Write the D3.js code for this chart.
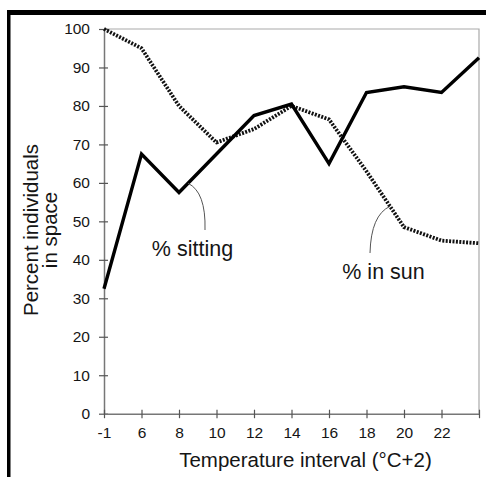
<!DOCTYPE html>
<html>
<head>
<meta charset="utf-8">
<script src="https://cdn.jsdelivr.net/npm/d3@7"></script>
<style>
  html, body { margin: 0; padding: 0; background: #fff; }
  svg { display: block; }
  text { font-family: "Liberation Sans", Arial, sans-serif; fill: #151515; }
</style>
</head>
<body>
<svg id="chart" width="486" height="477"></svg>
<script>
// Temperature intervals (°C+2); the last interval carries no label
const categories = ["-1", "6", "8", "10", "12", "14", "16", "18", "20", "22", ""];
// Percent of individuals sitting
const sitting = [32.5, 67.5, 57.5, 67.5, 77.5, 80.5, 65, 83.5, 85, 83.5, 92.5];
// Percent of individuals in the sun
const inSun = [100, 95, 80, 70.5, 74, 80, 76.5, 63, 48.5, 45, 44.3];
const yTicks = [0, 10, 20, 30, 40, 50, 60, 70, 80, 90, 100];

const svg = d3.select("#chart");
const plotLeft = 104, plotRight = 479, plotTop = 29, plotBottom = 413.7;

const x = d3.scalePoint().domain(categories).range([plotLeft, plotRight]).padding(0);
const y = d3.scaleLinear().domain([0, 100]).range([plotBottom, plotTop]);

// outer frame: heavy rule across the top and down the left side
svg.append("rect").attr("x", 7).attr("y", 10).attr("width", 479).attr("height", 5).attr("fill", "#000");
svg.append("rect").attr("x", 7).attr("y", 10).attr("width", 3.5).attr("height", 467).attr("fill", "#000");

// light plot box on the top and right
svg.append("path")
  .attr("d", `M${plotLeft},${plotTop}H${plotRight}V${plotBottom}`)
  .attr("fill", "none").attr("stroke", "#aaa").attr("stroke-width", 1.2);

// y axis
const yAxis = svg.append("g").attr("transform", `translate(${plotLeft},0)`)
  .call(d3.axisLeft(y).tickValues(yTicks).tickSize(5).tickPadding(9).tickSizeOuter(0));
yAxis.select(".domain").attr("stroke", "#777").attr("stroke-width", 1.5);
yAxis.selectAll(".tick line").attr("stroke", "#555").attr("stroke-width", 1.2).attr("x2", 4).attr("x1", -5);
yAxis.selectAll(".tick text").attr("font-size", 15.5).attr("fill", "#151515")
  .attr("font-family", "Liberation Sans, Arial, sans-serif");

// x axis
const xAxis = svg.append("g").attr("transform", `translate(0,${plotBottom})`)
  .call(d3.axisBottom(x).tickSize(4).tickPadding(9).tickSizeOuter(0));
xAxis.select(".domain").attr("stroke", "#777").attr("stroke-width", 1.5);
xAxis.selectAll(".tick line").attr("stroke", "#555").attr("stroke-width", 1.2).attr("y1", -4).attr("y2", 4.5);
xAxis.selectAll(".tick text").attr("font-size", 15.5).attr("fill", "#151515")
  .attr("font-family", "Liberation Sans, Arial, sans-serif");

// series lines
const line = d3.line().x((d, i) => x(categories[i])).y(d => y(d));
svg.append("path").datum(inSun).attr("d", line)
  .attr("fill", "none").attr("stroke", "#111").attr("stroke-width", 3.8)
  .attr("stroke-dasharray", "2,1.4").attr("stroke-linejoin", "round");
svg.append("path").datum(sitting).attr("d", line)
  .attr("fill", "none").attr("stroke", "#000").attr("stroke-width", 3.4)
  .attr("stroke-linejoin", "miter");

// series labels with curved leaders
function leader(sx, sy, cx, cy, ex, ey) {
  svg.append("path")
    .attr("d", `M${sx},${sy}Q${cx},${cy} ${ex},${ey}`)
    .attr("fill", "none").attr("stroke", "#555").attr("stroke-width", 1);
}
// leaders start on their series, between neighbouring points
const sitStart = [x(categories[2]) + 9, y(sitting[2] + (sitting[3] - sitting[2]) * 9 / (x(categories[3]) - x(categories[2])))];
leader(sitStart[0], sitStart[1], 206, 192, 205, 230);
const sunT = (390 - x(categories[7])) / (x(categories[8]) - x(categories[7]));
leader(390, y(inSun[7] + (inSun[8] - inSun[7]) * sunT), 371, 215, 370, 253);

svg.append("text").attr("x", 192.5).attr("y", 255.5).attr("text-anchor", "middle")
  .attr("font-size", 21.5).text("% sitting");
svg.append("text").attr("x", 383.5).attr("y", 278.5).attr("text-anchor", "middle")
  .attr("font-size", 21.5).text("% in sun");

// axis titles
svg.append("text").attr("x", 305.5).attr("y", 466.5).attr("text-anchor", "middle")
  .attr("font-size", 20.5).text("Temperature interval (°C+2)");
svg.append("text").attr("transform", "translate(38,230) rotate(-90)")
  .attr("text-anchor", "middle").attr("font-size", 20.5).text("Percent individuals");
svg.append("text").attr("transform", "translate(56.5,230) rotate(-90)")
  .attr("text-anchor", "middle").attr("font-size", 20.5).text("in space");
</script>
</body>
</html>
